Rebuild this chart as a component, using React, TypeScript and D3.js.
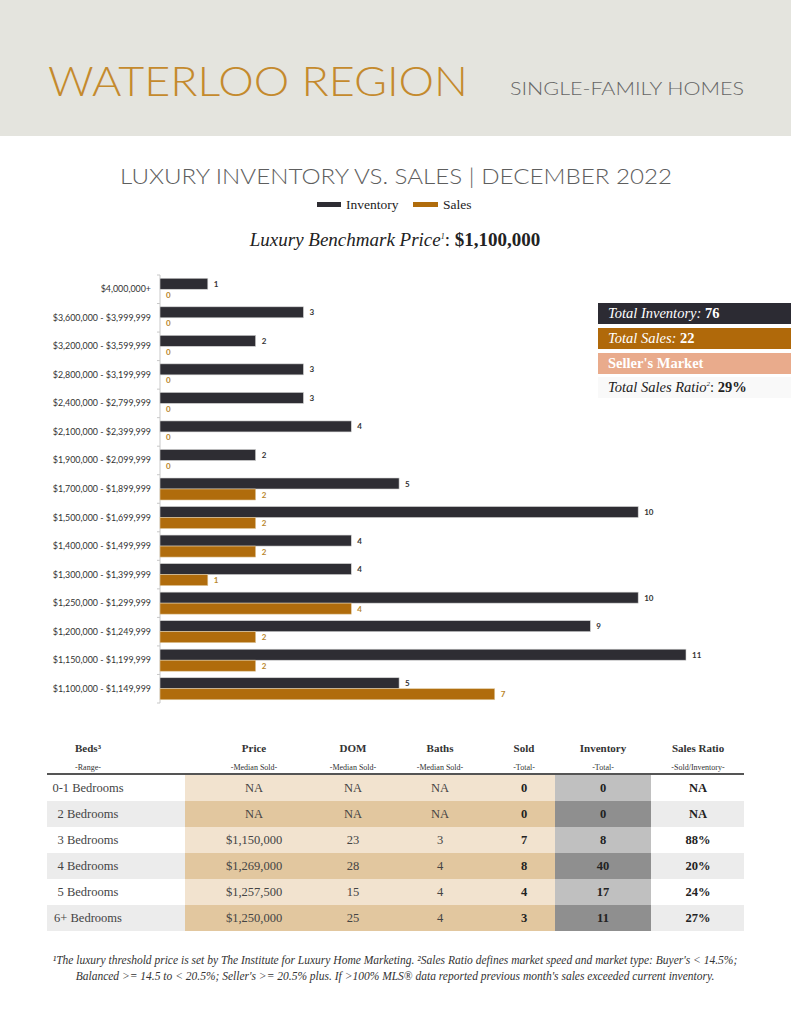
import React from "react";
import * as d3 from "d3";

const categories = [
  "$4,000,000+",
  "$3,600,000 - $3,999,999",
  "$3,200,000 - $3,599,999",
  "$2,800,000 - $3,199,999",
  "$2,400,000 - $2,799,999",
  "$2,100,000 - $2,399,999",
  "$1,900,000 - $2,099,999",
  "$1,700,000 - $1,899,999",
  "$1,500,000 - $1,699,999",
  "$1,400,000 - $1,499,999",
  "$1,300,000 - $1,399,999",
  "$1,250,000 - $1,299,999",
  "$1,200,000 - $1,249,999",
  "$1,150,000 - $1,199,999",
  "$1,100,000 - $1,149,999",
];
const inventory = [1, 3, 2, 3, 3, 4, 2, 5, 10, 4, 4, 10, 9, 11, 5];
const sales = [0, 0, 0, 0, 0, 0, 0, 2, 2, 2, 1, 4, 2, 2, 7];

const tableHeaders = ["Beds³", "Price", "DOM", "Baths", "Sold", "Inventory", "Sales Ratio"];
const tableSubHeaders = ["-Range-", "-Median Sold-", "-Median Sold-", "-Median Sold-", "-Total-", "-Total-", "-Sold/Inventory-"];
const bedRanges = ["0-1 Bedrooms", "2 Bedrooms", "3 Bedrooms", "4 Bedrooms", "5 Bedrooms", "6+ Bedrooms"];
const medianPrice = ["NA", "NA", "$1,150,000", "$1,269,000", "$1,257,500", "$1,250,000"];
const medianDom = ["NA", "NA", "23", "28", "15", "25"];
const medianBaths = ["NA", "NA", "3", "4", "4", "4"];
const soldTotal = ["0", "0", "7", "8", "4", "3"];
const inventoryTotal = ["0", "0", "8", "40", "17", "11"];
const salesRatio = ["NA", "NA", "88%", "20%", "24%", "27%"];

const INV = "#2e2d33";
const SAL = "#b06c0c";
const SERIF = "'Liberation Serif', 'DejaVu Serif', serif";
const SANS = "Lato, 'Open Sans', sans-serif";

export default function App() {
  const W = 791, H = 1024;
  const x = d3.scaleLinear().domain([0, 11]).range([160, 686]);
  const y = d3.scaleBand<string>().domain(categories).range([275, 703]).paddingInner(0);
  const bw = y.bandwidth();
  const barH = 11;

  const colCenters = [88, 254, 353, 440, 524, 603, 698];
  const rowY = d3.scaleBand<string>().domain(bedRanges).range([775, 931]);
  const rh = rowY.bandwidth();
  const cols = [bedRanges, medianPrice, medianDom, medianBaths, soldTotal, inventoryTotal, salesRatio];

  return (
    <svg width={W} height={H} style={{ display: "block", position: "absolute", left: 0, top: 0 }}>
      <rect x={0} y={0} width={W} height={H} fill="#ffffff" />
      <rect x={0} y={0} width={W} height={136} fill="#e4e4de" />
      <text x={48} y={96} fontFamily={SANS} fontWeight={300} fontSize={42} fill="#c48a2d"
        textLength={420} lengthAdjust="spacingAndGlyphs">WATERLOO REGION</text>
      <text x={510} y={95} fontFamily={SANS} fontWeight={300} fontSize={18.5} fill="#666666"
        textLength={234} lengthAdjust="spacingAndGlyphs">SINGLE-FAMILY HOMES</text>

      <text x={120} y={184} fontFamily={SANS} fontWeight={300} fontSize={21} fill="#5e5e5e"
        textLength={552} lengthAdjust="spacingAndGlyphs">LUXURY INVENTORY VS. SALES | DECEMBER 2022</text>

      <rect x={317} y={202} width={24} height={5} fill={INV} />
      <text x={346} y={209} fontFamily={SERIF} fontSize={13.5} fill="#222">Inventory</text>
      <rect x={413} y={202} width={25} height={5} fill={SAL} />
      <text x={443} y={209} fontFamily={SERIF} fontSize={13.5} fill="#222">Sales</text>

      <text x={395} y={246} textAnchor="middle" fontFamily={SERIF} fontSize={19} fill="#222">
        <tspan fontStyle="italic">Luxury Benchmark Price</tspan>
        <tspan fontStyle="italic" fontSize={8} dy={-7}>1</tspan>
        <tspan dy={7}>: </tspan>
        <tspan fontWeight={700}>$1,100,000</tspan>
      </text>

      <line x1={160} x2={160} y1={275} y2={703} stroke="#c8c8c8" strokeWidth={1} />
      {categories.map((c, i) => (
        <line key={"t" + i} x1={157} x2={160} y1={(y(c) as number)} y2={(y(c) as number)} stroke="#c8c8c8" />
      ))}
      <line x1={157} x2={160} y1={703} y2={703} stroke="#c8c8c8" />

      {categories.map((c, i) => {
        const y0 = y(c) as number;
        const invY = y0 + (bw - 2 * barH) / 2;
        const salY = invY + barH;
        return (
          <g key={c}>
            <text x={151} y={y0 + bw / 2 + 3} textAnchor="end" fontFamily={SANS} fontSize={8.9} fill="#333">{c}</text>
            <rect x={x(0)} y={invY} width={x(inventory[i]) - x(0)} height={barH} fill={INV} stroke="#d4d4d4" strokeWidth={0.6} />
            {sales[i] > 0 && (
              <rect x={x(0)} y={salY} width={x(sales[i]) - x(0)} height={barH} fill={SAL} stroke="#e0c9a0" strokeWidth={0.6} />
            )}
            <text x={x(inventory[i]) + 6} y={invY + barH / 2 + 3} fontFamily={SANS} fontWeight={700} fontSize={8} fill="#333">{inventory[i]}</text>
            <text x={x(sales[i]) + 6} y={salY + barH / 2 + 3} fontFamily={SANS} fontWeight={700} fontSize={8} fill="#b8862a">{sales[i]}</text>
          </g>
        );
      })}

      <rect x={598} y={303} width={193} height={21} fill="#2c2b33" />
      <text x={608} y={318} fontFamily={SERIF} fontSize={14.5} fill="#ffffff">
        <tspan fontStyle="italic">Total Inventory: </tspan><tspan fontWeight={700}>76</tspan>
      </text>
      <rect x={598} y={328} width={193} height={21} fill="#b0690a" />
      <text x={608} y={343} fontFamily={SERIF} fontSize={14.5} fill="#ffffff">
        <tspan fontStyle="italic">Total Sales: </tspan><tspan fontWeight={700}>22</tspan>
      </text>
      <rect x={598} y={353} width={193} height={21} fill="#e9ab8c" />
      <text x={608} y={368} fontFamily={SERIF} fontSize={14.5} fontWeight={700} fill="#ffffff">Seller's Market</text>
      <rect x={598} y={377} width={193} height={21} fill="#f9f9f9" />
      <text x={608} y={392} fontFamily={SERIF} fontSize={14.5} fill="#222">
        <tspan fontStyle="italic">Total Sales Ratio</tspan>
        <tspan fontStyle="italic" fontSize={7} dy={-6}>2</tspan>
        <tspan dy={6}>: </tspan>
        <tspan fontWeight={700}>29%</tspan>
      </text>

      {tableHeaders.map((h, i) => (
        <g key={h}>
          <text x={colCenters[i]} y={752} textAnchor="middle" fontFamily={SERIF} fontWeight={700} fontSize={11} fill="#333">{h}</text>
          <text x={colCenters[i]} y={770} textAnchor="middle" fontFamily={SERIF} fontSize={8} fill="#333">{tableSubHeaders[i]}</text>
        </g>
      ))}
      <line x1={47} x2={744} y1={774} y2={774} stroke="#555" strokeWidth={2} />

      {bedRanges.map((b, r) => {
        const ry = (rowY(b) as number);
        const alt = r % 2 === 1;
        return (
          <g key={b}>
            <rect x={47} y={ry} width={697} height={rh} fill={alt ? "#ececec" : "#ffffff"} />
            <rect x={185} y={ry} width={370} height={rh} fill={alt ? "#e2c79f" : "#f2e3cf"} />
            <rect x={555} y={ry} width={96} height={rh} fill={alt ? "#8f8f8f" : "#c0c0c0"} />
            {cols.map((col, ci) => (
              <text key={ci} x={colCenters[ci]} y={ry + rh / 2 + 3.5} textAnchor="middle" fontFamily={SERIF}
                fontSize={12.5} fontWeight={ci >= 4 ? 700 : 400} fill={ci >= 4 ? "#222" : "#444"}>{col[r]}</text>
            ))}
          </g>
        );
      })}

      <text x={395} y={964} textAnchor="middle" fontFamily={SERIF} fontStyle="italic" fontSize={11.5} fill="#333">
        ¹The luxury threshold price is set by The Institute for Luxury Home Marketing. ²Sales Ratio defines market speed and market type: Buyer's &lt; 14.5%;
      </text>
      <text x={395} y={980} textAnchor="middle" fontFamily={SERIF} fontStyle="italic" fontSize={11.5} fill="#333">
        Balanced &gt;= 14.5 to &lt; 20.5%; Seller's &gt;= 20.5% plus. If &gt;100% MLS® data reported previous month's sales exceeded current inventory.
      </text>
    </svg>
  );
}
